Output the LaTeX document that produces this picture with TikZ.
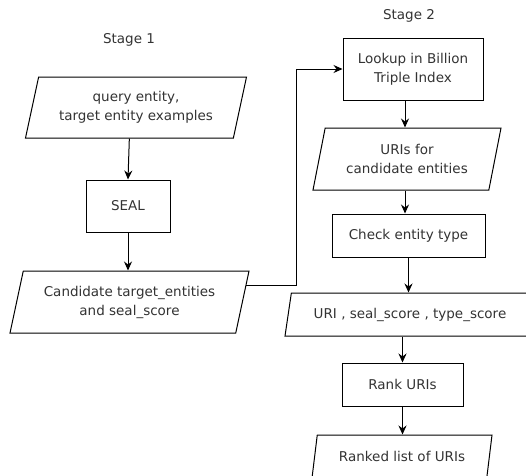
\documentclass[tikz,border=0pt]{standalone}
\usepackage{fontspec}
\setmainfont{DejaVu Sans}
\usetikzlibrary{shapes.geometric,arrows.meta}
\begin{document}
\begin{tikzpicture}[x=1pt, y=-1pt,
    every node/.style={text=black!80, font=\fontsize{13.5}{19}\selectfont, align=center, inner sep=2pt},
    proc/.style={draw, line width=1pt, rectangle},
    data/.style={draw, line width=1pt, trapezium, trapezium left angle=70, trapezium right angle=110,
        trapezium stretches body},
    flow/.style={line width=1pt, -{Stealth[length=9pt, width=8pt, inset=3pt]}}]
    \useasboundingbox (0,0) rectangle (526,475);
    % Stage 1
    \node (s1) at (129,40) {Stage 1};
    \node[data, minimum width=221pt, minimum height=61pt] (query) at (136,107.5)
        {query entity,\\target entity examples};
    \node[proc, minimum width=84pt, minimum height=52pt] (seal) at (128,206) {SEAL};
    \node[data, minimum width=239pt, minimum height=62pt] (cand) at (129.5,302)
        {Candidate target\_entities\\and seal\_score};
    % Stage 2
    \node (s2) at (409,16) {Stage 2};
    \node[proc, minimum width=140pt, minimum height=62pt] (lookup) at (413,69)
        {Lookup in Billion\\Triple Index};
    \node[data, minimum width=188pt, minimum height=62pt] (uris) at (407,159)
        {URIs for\\candidate entities};
    \node[proc, minimum width=153pt, minimum height=43pt] (check) at (408.5,235.5)
        {Check entity type};
    \node[data, minimum width=250pt, minimum height=43pt] (uri) at (410,314.5)
        {URI , seal\_score , type\_score};
    \node[proc, minimum width=121pt, minimum height=43pt] (rank) at (402.5,384.5) {Rank URIs};
    \node[data, minimum width=180pt, minimum height=43pt] (ranked) at (402,456.5)
        {Ranked list of URIs};
    \coordinate (axis) at (405,0);
    % connectors
    \draw[flow] (query.bottom side) -- (seal.north);
    \draw[flow] (seal.south) -- (seal.south |- cand.north);
    \draw[flow] (cand.8) -- ++(50,0) |- (lookup.west);
    \draw[flow] (lookup.south -| axis) -- (uris.north -| axis);
    \draw[flow] (uris.south -| axis) -- (check.north -| axis);
    \draw[flow] (check.south) -- (check.south |- uri.north);
    \draw[flow] (uri.south -| rank.north) -- (rank.north);
    \draw[flow] (rank.south) -- (rank.south |- ranked.north);
\end{tikzpicture}
\end{document}
